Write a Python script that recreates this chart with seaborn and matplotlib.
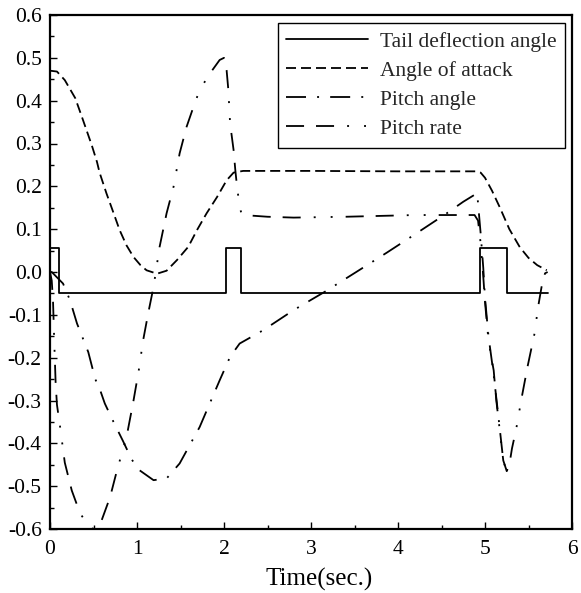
import matplotlib
matplotlib.use("Agg")
import matplotlib.pyplot as plt
import numpy as np
import pandas as pd
import seaborn as sns
from matplotlib.ticker import MultipleLocator

# ---------------- data ----------------
series_names = ["Tail deflection angle", "Angle of attack", "Pitch angle", "Pitch rate"]

tail_t = [0.0, 0.107, 0.107, 2.02, 2.02, 2.19, 2.19, 4.94, 4.94, 5.25, 5.25, 5.72]
tail_v = [0.055, 0.055, -0.05, -0.05, 0.055, 0.055, -0.05, -0.05, 0.055, 0.055, -0.05, -0.05]

aoa_t = [0.0, 0.08, 0.17, 0.29, 0.36, 0.42, 0.48, 0.54, 0.57, 0.65, 0.73, 0.8, 0.88, 0.96,
         1.04, 1.11, 1.23, 1.34, 1.46, 1.59, 1.69, 1.8, 1.92, 2.03, 2.11, 2.22, 3.0, 4.0,
         4.9, 4.95, 5.0, 5.08, 5.17, 5.28, 5.4, 5.5, 5.6, 5.71]
aoa_v = [0.47, 0.468, 0.448, 0.406, 0.366, 0.331, 0.296, 0.257, 0.232, 0.183, 0.138, 0.098,
         0.062, 0.035, 0.016, 0.004, -0.004, 0.003, 0.028, 0.059, 0.098, 0.137, 0.175, 0.214,
         0.232, 0.236, 0.236, 0.235, 0.235, 0.232, 0.22, 0.19, 0.151, 0.1, 0.058, 0.033,
         0.016, 0.004]

pitch_t = [0.0, 0.02, 0.15, 0.23, 0.31, 0.44, 0.52, 0.575, 0.63, 0.73, 0.84, 0.94, 1.03,
           1.19, 1.34, 1.49, 1.72, 1.95, 2.07, 2.18, 2.45, 2.8, 3.16, 3.52, 3.87, 4.21,
           4.56, 4.75, 4.91, 4.95, 4.98, 5.0, 5.04, 5.1, 5.15, 5.21, 5.24]
pitch_v = [0.0, 0.0, -0.027, -0.066, -0.12, -0.187, -0.25, -0.275, -0.307, -0.35, -0.395,
           -0.438, -0.463, -0.486, -0.482, -0.447, -0.362, -0.253, -0.198, -0.167, -0.136,
           -0.089, -0.046, 0.0, 0.045, 0.09, 0.137, 0.164, 0.184, 0.09, 0.01, -0.06, -0.15,
           -0.24, -0.33, -0.44, -0.46]

rate_t = [0.0, 0.02, 0.035, 0.05, 0.065, 0.08, 0.115, 0.17, 0.25, 0.345, 0.46, 0.52, 0.575,
          0.69, 0.77, 0.88, 0.96, 1.02, 1.07, 1.13, 1.19, 1.26, 1.34, 1.42, 1.49, 1.57, 1.65,
          1.72, 1.84, 1.95, 2.0, 2.03, 2.05, 2.07, 2.11, 2.13, 2.15, 2.18, 2.2, 2.22, 2.5,
          2.8, 3.4, 4.2, 4.88, 4.92, 4.95, 4.98, 5.0, 5.04, 5.1, 5.13, 5.17, 5.21, 5.25, 5.28,
          5.31, 5.36, 5.42, 5.49, 5.57, 5.61, 5.65, 5.69, 5.72]
rate_v = [0.0, -0.02, -0.07, -0.17, -0.26, -0.31, -0.36, -0.445, -0.51, -0.563, -0.598, -0.6,
          -0.59, -0.526, -0.463, -0.385, -0.3, -0.23, -0.16, -0.095, -0.035, 0.059, 0.137,
          0.199, 0.277, 0.339, 0.386, 0.425, 0.464, 0.495, 0.5, 0.471, 0.425, 0.347, 0.285,
          0.238, 0.199, 0.152, 0.137, 0.133, 0.129, 0.127, 0.129, 0.133, 0.133, 0.12, 0.067,
          -0.01, -0.07, -0.16, -0.23, -0.3, -0.37, -0.44, -0.465, -0.45, -0.412, -0.365,
          -0.295, -0.22, -0.143, -0.082, -0.035, -0.003, 0.0]

x_ticks = [0, 1, 2, 3, 4, 5, 6]
y_ticks = [-0.6, -0.5, -0.4, -0.3, -0.2, -0.1, 0.0, 0.1, 0.2, 0.3, 0.4, 0.5, 0.6]
y_tick_labels = ["-0.6", "-0.5", "-0.4", "-0.3", "-0.2", "-0.1", "0.0", "0.1", "0.2",
                 "0.3", "0.4", "0.5", "0.6"]

# ---------------- frame ----------------
frames = []
for name, t, v in zip(series_names, [tail_t, aoa_t, pitch_t, rate_t],
                      [tail_v, aoa_v, pitch_v, rate_v]):
    frames.append(pd.DataFrame({"Time": t, "Value": v, "Series": name}))
df = pd.concat(frames, ignore_index=True)

# ---------------- style ----------------
sns.set_theme(style="white")
plt.rcParams["font.family"] = ["Liberation Serif", "DejaVu Serif"]
plt.rcParams["lines.scale_dashes"] = False

fig = plt.figure(figsize=(5.81, 5.93), dpi=100)
ax = fig.add_axes([50 / 581, 1 - 529 / 593, 522 / 581, 514 / 593])

dash_map = {
    "Tail deflection angle": "",
    "Angle of attack": (7.2, 3.6),
    "Pitch angle": (14.4, 8.0, 1.4, 8.0),
    "Pitch rate": (13.0, 8.6, 13.0, 9.4, 1.4, 10.8, 1.4, 9.4),
}
palette = {n: "black" for n in series_names}

sns.lineplot(data=df, x="Time", y="Value", hue="Series", style="Series",
             hue_order=series_names, style_order=series_names,
             palette=palette, dashes=dash_map, estimator=None, sort=False,
             linewidth=1.3, ax=ax)

ax.set_xlim(0, 6)
ax.set_ylim(-0.6, 0.6)
ax.set_xticks(x_ticks)
ax.set_xticklabels([str(v) for v in x_ticks])
ax.set_yticks(y_ticks)
ax.set_yticklabels(y_tick_labels)
ax.xaxis.set_minor_locator(MultipleLocator(0.5))
ax.yaxis.set_minor_locator(MultipleLocator(0.05))
ax.tick_params(which="major", direction="in", length=5, width=1.0, color="black",
               labelsize=15.5, labelcolor="black", bottom=True, left=True)
ax.tick_params(which="minor", direction="in", length=3, width=1.0, color="black",
               bottom=True, left=True)
ax.tick_params(axis="x", which="major", pad=8)
ax.tick_params(axis="y", which="major", pad=6)

for sp in ax.spines.values():
    sp.set_color("black")
    sp.set_linewidth(1.6)

ax.set_xlabel("Time(sec.)", fontsize=18, color="black")
ax.xaxis.set_label_coords(0.515, -0.075)
ax.set_ylabel("")

sns.move_legend(ax, "upper right", bbox_to_anchor=(0.9866, 0.9844), title=None,
                frameon=True, fancybox=False, fontsize=15.5, handlelength=3.8,
                handletextpad=0.55, labelspacing=0.42, borderpad=0.4,
                borderaxespad=0.0, edgecolor="black", framealpha=1.0)
leg = ax.get_legend()
leg.get_frame().set_linewidth(1.0)
for line in leg.get_lines():
    line.set_linewidth(1.3)

fig.savefig("out.png", dpi=100)
